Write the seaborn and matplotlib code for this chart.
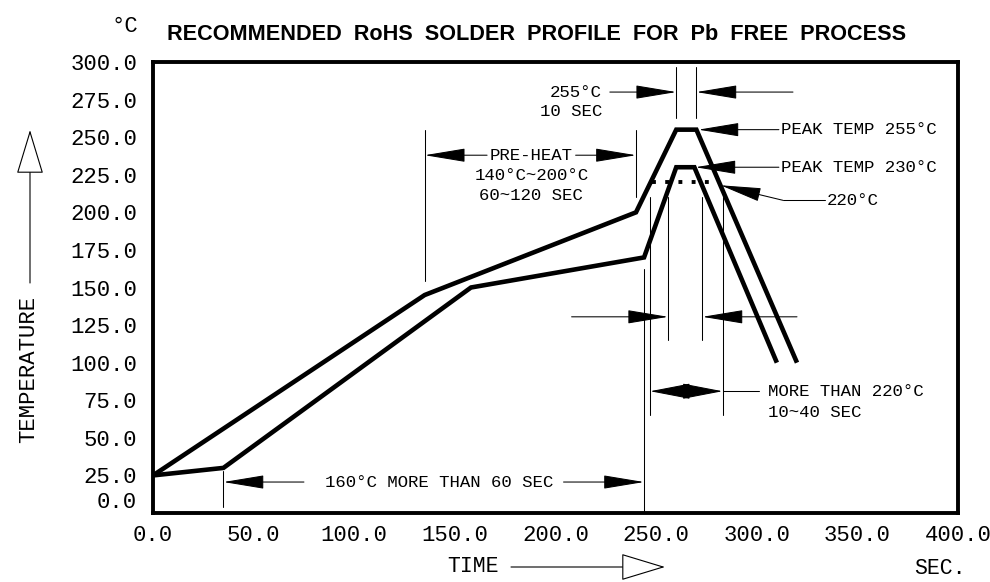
import numpy as np
import pandas as pd
import matplotlib
matplotlib.use("Agg")
import matplotlib.pyplot as plt
from matplotlib.ticker import MultipleLocator, FormatStrFormatter
import seaborn as sns

# Reflow profiles (time in s, temperature in deg C)
upper_time = [0, 135, 240, 260, 270, 320]
upper_temp = [25, 145, 200, 255, 255, 100]
lower_time = [0, 35, 158, 244, 260, 269, 310]
lower_temp = [25, 30, 150, 170, 230, 230, 100]

# 220 C liquidus marker (dotted)
liquidus_time = [248, 281]
liquidus_temp = [220, 220]

x_ticks = np.arange(0, 401, 50)
y_ticks = np.arange(0, 301, 25)

# dimension marks: (start, end) in seconds
preheat_span = (135, 240)
peak_span = (260, 270)
above220_upper = (247, 283)
above220_lower = (256, 273)
soak_span = (35, 244)

TITLE = "RECOMMENDED  RoHS  SOLDER  PROFILE  FOR  Pb  FREE  PROCESS"

sns.set_style("white")
plt.rcParams["font.family"] = ["Liberation Mono", "DejaVu Sans"]
plt.rcParams["text.color"] = "black"

W, H = 990, 582
fig = plt.figure(figsize=(W / 100, H / 100), dpi=100)
ax = fig.add_axes([153 / W, 69 / H, 805 / W, 451 / H])

profile = pd.DataFrame({
    "time": upper_time + lower_time,
    "temp": upper_temp + lower_temp,
    "profile": ["peak 255"] * len(upper_time) + ["peak 230"] * len(lower_time),
})
sns.lineplot(data=profile, x="time", y="temp", hue="profile",
             palette=["black", "black"], sort=False, estimator=None,
             linewidth=3.3, legend=False, ax=ax,
             solid_joinstyle="miter", solid_capstyle="butt")
ax.plot(liquidus_time, liquidus_temp, color="black", lw=2.8,
        linestyle=(0, (1, 2.4)), dash_capstyle="butt")

ax.set_xlim(0, 400)
ax.set_ylim(0, 300)
ax.set_xlabel("")
ax.set_ylabel("")
ax.set_xticks(x_ticks)
ax.xaxis.set_minor_locator(MultipleLocator(10))
ax.xaxis.set_major_formatter(FormatStrFormatter("%.1f"))
ax.set_yticks(y_ticks)
ax.yaxis.set_major_formatter(FormatStrFormatter("%.1f"))
ax.tick_params(axis="y", direction="in", length=13.7, width=2.4, pad=11.5,
               labelsize=16, colors="black")
ax.tick_params(axis="x", which="major", direction="in", length=9.4, width=2.2,
               pad=8.6, labelsize=16, colors="black")
ax.tick_params(axis="x", which="minor", direction="in", length=5, width=2.2,
               colors="black")
for sp in ax.spines.values():
    sp.set_visible(True)
    sp.set_color("black")
    sp.set_linewidth(2.8)
ax.yaxis.get_major_ticks()[0].label1.set_verticalalignment("bottom")


def guide(xs, ys):
    ax.plot(xs, ys, color="black", lw=0.75)


def dim_arrow(tip, tail, length=2.6, width=0.43):
    ax.annotate("", xy=tip, xytext=tail,
                arrowprops=dict(arrowstyle=f"-|>,head_length={length},head_width={width}",
                                color="black", lw=0.75, shrinkA=0, shrinkB=0,
                                mutation_scale=10))


def note(x, y, s, ha="left"):
    ax.text(x, y, s, ha=ha, va="center", fontsize=12.5)


# pre-heat window
guide([preheat_span[0]] * 2, [154, 255])
guide([preheat_span[1]] * 2, [210, 255])
dim_arrow((preheat_span[0], 238), (166, 238))
dim_arrow((preheat_span[1], 238), (210, 238))
note(188, 238, "PRE-HEAT", ha="center")
note(188, 224.5, "140°C~200°C", ha="center")
note(188, 211.5, "60~120 SEC", ha="center")

# 10 s at peak
guide([peak_span[0]] * 2, [263, 297])
guide([peak_span[1]] * 2, [263, 297])
dim_arrow((peak_span[0], 280), (227, 280))
dim_arrow((peak_span[1], 280), (318, 280))
note(223, 280, "255°C", ha="right")
note(223, 267, "10 SEC", ha="right")

# peak callouts
dim_arrow((271, 255), (311, 255))
note(312, 255, "PEAK TEMP 255°C")
dim_arrow((269.5, 230), (311, 230))
note(312, 230, "PEAK TEMP 230°C")
dim_arrow((282, 218), (313, 208))
guide([313, 334], [208, 208])
note(335, 208, "220°C")

# time above 220 C, lower profile
guide([above220_lower[0]] * 2, [115, 210])
guide([above220_lower[1]] * 2, [115, 210])
dim_arrow((above220_lower[0], 130.5), (208, 130.5))
dim_arrow((above220_lower[1], 130.5), (320, 130.5))

# time above 220 C, upper profile
mid = (above220_upper[0] + above220_upper[1]) / 2
guide([above220_upper[0]] * 2, [65, 210])
guide([above220_upper[1]] * 2, [65, 210])
dim_arrow((above220_upper[0], 81), (mid, 81), width=0.5)
dim_arrow((above220_upper[1], 81), (mid, 81), width=0.5)
guide([above220_upper[1], 301], [81, 81])
note(305.5, 81, "MORE THAN 220°C")
note(305.5, 67, "10~40 SEC")

# 160 C soak
guide([soak_span[0]] * 2, [4, 28])
guide([soak_span[1]] * 2, [0, 162])
dim_arrow((soak_span[0], 20.6), (75, 20.6))
dim_arrow((soak_span[1], 20.6), (204, 20.6))
note(85.6, 20.6, "160°C MORE THAN 60 SEC")

# axis captions outside the frame
fig.text(537 / W, 1 - 35 / H, TITLE, ha="center", va="center", fontsize=15.6,
         fontweight="bold", family=["Liberation Sans", "DejaVu Sans"])
fig.text(125 / W, 1 - 26 / H, "°C", ha="center", va="center", fontsize=16)
fig.text(29 / W, 1 - 369 / H, "TEMPERATURE", ha="center", va="center",
         rotation=90, fontsize=16)
fig.text(473 / W, 1 - 567 / H, "TIME", ha="center", va="center", fontsize=15.5)
fig.text(940 / W, 1 - 569 / H, "SEC.", ha="center", va="center", fontsize=15.5)

hollow = dict(arrowstyle="-|>,head_length=2.9,head_width=0.88", fc="white",
              ec="black", lw=0.8, shrinkA=0, shrinkB=0, mutation_scale=10)
ax.annotate("", xy=(30, H - 130), xytext=(30, H - 283), xycoords="figure pixels",
            textcoords="figure pixels", arrowprops=hollow, annotation_clip=False)
ax.annotate("", xy=(665, H - 567), xytext=(511, H - 567), xycoords="figure pixels",
            textcoords="figure pixels", arrowprops=hollow, annotation_clip=False)

fig.savefig("out.png", dpi=100)
